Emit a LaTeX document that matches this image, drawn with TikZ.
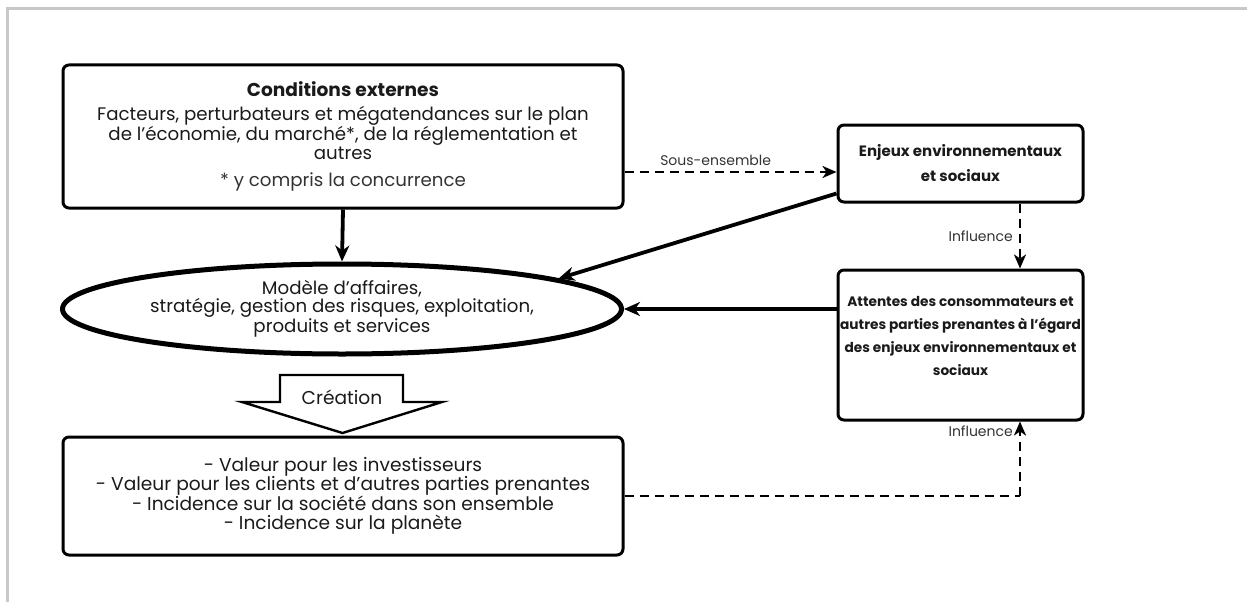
\documentclass[tikz,border=0pt]{standalone}
\usepackage{fontspec}
\setmainfont{Poppins}
\usetikzlibrary{shapes.geometric,arrows.meta,calc}
\definecolor{txt}{HTML}{1A1A1A}
\definecolor{lbl}{HTML}{333333}
\definecolor{framegray}{HTML}{C8C8C8}
\begin{document}
\begin{tikzpicture}[x=1pt,y=-1pt,
  box/.style={draw=black,line width=3pt,rounded corners=6pt,align=center,inner sep=0pt,text=txt},
  plain/.style={align=center,inner sep=0pt,text=txt},
  lab/.style={font=\fontsize{14}{16}\selectfont,text=lbl,inner sep=2pt},
  solidarrow/.style={line width=3.8pt,-{Stealth[length=16pt,width=14pt,inset=5pt]}},
  dasharrow/.style={line width=2.4pt,dash pattern=on 9pt off 6pt,-{Stealth[length=14pt,width=12pt,inset=4pt]}},
  dashline/.style={line width=2.4pt,dash pattern=on 9pt off 6pt}
]
\useasboundingbox (0,0) rectangle (1247,602);
\draw[framegray,line width=3pt] (7,602) -- (7,9) -- (1247,9);

\node[box,minimum width=560pt,minimum height=143pt,font=\fontsize{18.2}{17}\selectfont] (cond) at (343,136.5)
  {{\fontsize{18.6}{17}\selectfont\bfseries Conditions externes}\\[7pt]
   Facteurs, perturbateurs et mégatendances sur le plan\\
   de l’économie, du marché*, de la réglementation et\\
   autres\\[10pt]
   {\color{lbl}* y compris la concurrence}};

\node[box,minimum width=245pt,minimum height=77pt,font=\fontsize{15}{25}\selectfont\bfseries] (enj) at (960.5,163.5)
  {Enjeux environnementaux\\et sociaux};

\node[box,minimum width=245pt,minimum height=150pt] (att) at (960.5,345) {};
\node[plain,font=\fontsize{13.7}{23}\selectfont\bfseries] (attt) at ($(att.center)+(0,-9)$)
  {Attentes des consommateurs et\\autres parties prenantes à l’égard\\des enjeux environnementaux et\\sociaux};

\node[draw=black,line width=5pt,ellipse,minimum width=559pt,minimum height=90pt,inner sep=0pt,align=center,text=txt,font=\fontsize{18.2}{18}\selectfont] (ell) at (342,309)
  {Modèle d’affaires,\\stratégie, gestion des risques, exploitation,\\produits et services};

\node[box,minimum width=560pt,minimum height=118pt,font=\fontsize{18.6}{19.5}\selectfont] (val) at (343,496)
  {- Valeur pour les investisseurs\\
   - Valeur pour les clients et d’autres parties prenantes\\
   - Incidence sur la société dans son ensemble\\
   - Incidence sur la planète};

% Creation block arrow
\draw[line width=2.4pt,line join=miter,fill=white] (280,375) -- (403,375) -- (403,402) -- (442,402) -- (342.5,433) -- (242,402) -- (280,402) -- cycle;
\node[plain,font=\fontsize{18.6}{20}\selectfont] (crea) at (342,397) {Création};

% connectors
\draw[solidarrow] (cond.south) -- (ell.north);
\coordinate (se) at ($(enj.west)+(0,8.5)$);
\draw[dasharrow] (cond.east |- se) -- node[lab,above,pos=0.43,yshift=3pt] (sous) {Sous-ensemble} (se);
\draw[solidarrow] ($(enj.south west)+(0,-10)$) -- (ell.8);
\draw[solidarrow] (att.west |- ell.east) -- (ell.east);
\coordinate (i1a) at ($(enj.south)+(59.5,0)$);
\coordinate (i1b) at ($(att.north)+(59.5,0)$);
\draw[dasharrow] (i1a) -- node[lab,left,xshift=-4pt] (inf1) {Influence} (i1b);
\coordinate (i2) at ($(att.south)+(59.5,0)$);
\draw[dashline] (val.east) -| (i2 |- val.east) coordinate (corner);
\draw[dasharrow] (corner) -- node[lab,left,pos=0.87,xshift=-4pt] (inf2) {Influence} (i2);
\end{tikzpicture}
\end{document}
